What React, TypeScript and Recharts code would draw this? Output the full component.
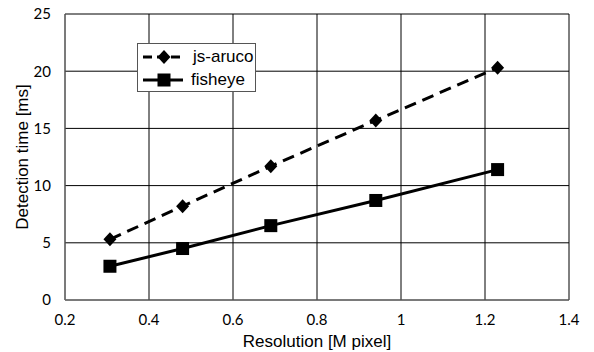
import { CartesianGrid, Legend, Line, LineChart, XAxis, YAxis } from "recharts";

const resolution = [0.307, 0.48, 0.69, 0.94, 1.23];
const jsAruco = [5.3, 8.2, 11.7, 15.7, 20.3];
const fisheye = [2.95, 4.5, 6.5, 8.7, 11.4];
const xTicks = [0.2, 0.4, 0.6, 0.8, 1, 1.2, 1.4];
const yTicks = [0, 5, 10, 15, 20, 25];

const data = resolution.map((r, i) => ({ resolution: r, jsAruco: jsAruco[i], fisheye: fisheye[i] }));

const tickFont = { fontFamily: "Lato, 'Liberation Sans', sans-serif", fontSize: 15, fill: "#000" };
const titleFont = "'Liberation Sans', Arial, sans-serif";

const Diamond = (p: any) => {
  const { cx, cy } = p;
  return <path d={`M${cx} ${cy - 7}L${cx + 6.5} ${cy}L${cx} ${cy + 7}L${cx - 6.5} ${cy}Z`} fill="#000" />;
};

const Square = (p: any) => {
  const { cx, cy } = p;
  return <rect x={cx - 6.5} y={cy - 6.5} width={13} height={13} fill="#000" />;
};

const series = [
  { key: "jsAruco", name: "js-aruco", dash: "9 6", dot: "diamond" },
  { key: "fisheye", name: "fisheye", dash: undefined, dot: "square" },
];

function LegendBox() {
  return (
    <div
      style={{
        width: 117,
        height: 46,
        border: "1px solid #555",
        background: "#fff",
        fontFamily: titleFont,
        fontSize: 17,
        paddingTop: 1,
      }}
    >
      {series.map((s) => (
        <div key={s.key} style={{ display: "flex", alignItems: "center", height: 23 }}>
          <svg width={52} height={20} style={{ flex: "none" }}>
            <line x1={5} x2={45} y1={10} y2={10} stroke="#000" strokeWidth={3} strokeDasharray={s.dash ? "9 5" : undefined} />
            {s.dot === "diamond" ? <Diamond cx={26} cy={10} /> : <Square cx={26} cy={10} />}
          </svg>
          <span style={{ marginLeft: s.dot === "diamond" ? 3 : 1 }}>{s.name}</span>
        </div>
      ))}
    </div>
  );
}

export default function App() {
  return (
    <div style={{ position: "fixed", left: 0, top: 0, background: "#fff" }}>
      <LineChart width={594} height={352} data={data} margin={{ top: 14, right: 25, bottom: 0, left: 0 }}>
        <CartesianGrid stroke="#000" strokeWidth={1} horizontalValues={yTicks} verticalValues={xTicks} />
        <XAxis
          dataKey="resolution"
          type="number"
          domain={[0.2, 1.4]}
          ticks={xTicks}
          tickFormatter={(v) => String(v)}
          tickLine={false}
          tickMargin={8}
          stroke="#777"
          tick={tickFont}
          height={52}
          label={{
            value: "Resolution [M pixel]",
            position: "insideBottom",
            offset: 5,
            style: { fontFamily: titleFont, fontSize: 17, fill: "#000" },
          }}
        />
        <YAxis
          type="number"
          domain={[0, 25]}
          ticks={yTicks}
          tickLine={false}
          tickMargin={8}
          stroke="#777"
          tick={tickFont}
          width={65}
          label={{
            value: "Detection time [ms]",
            angle: -90,
            position: "insideLeft",
            offset: 22,
            textAnchor: "middle",
            style: { fontFamily: titleFont, fontSize: 17, fill: "#000", textAnchor: "middle" },
          }}
        />
        <Legend
          layout="vertical"
          align="center"
          verticalAlign="middle"
          content={() => <LegendBox />}
          wrapperStyle={{ left: 137, top: 43, width: 119, height: 48 }}
        />
        <Line
          dataKey="jsAruco"
          name="js-aruco"
          stroke="#000"
          strokeWidth={3}
          strokeDasharray="12 7"
          dot={<Diamond />}
          activeDot={false}
          isAnimationActive={false}
        />
        <Line
          dataKey="fisheye"
          name="fisheye"
          stroke="#000"
          strokeWidth={3}
          dot={<Square />}
          activeDot={false}
          isAnimationActive={false}
        />
      </LineChart>
    </div>
  );
}
